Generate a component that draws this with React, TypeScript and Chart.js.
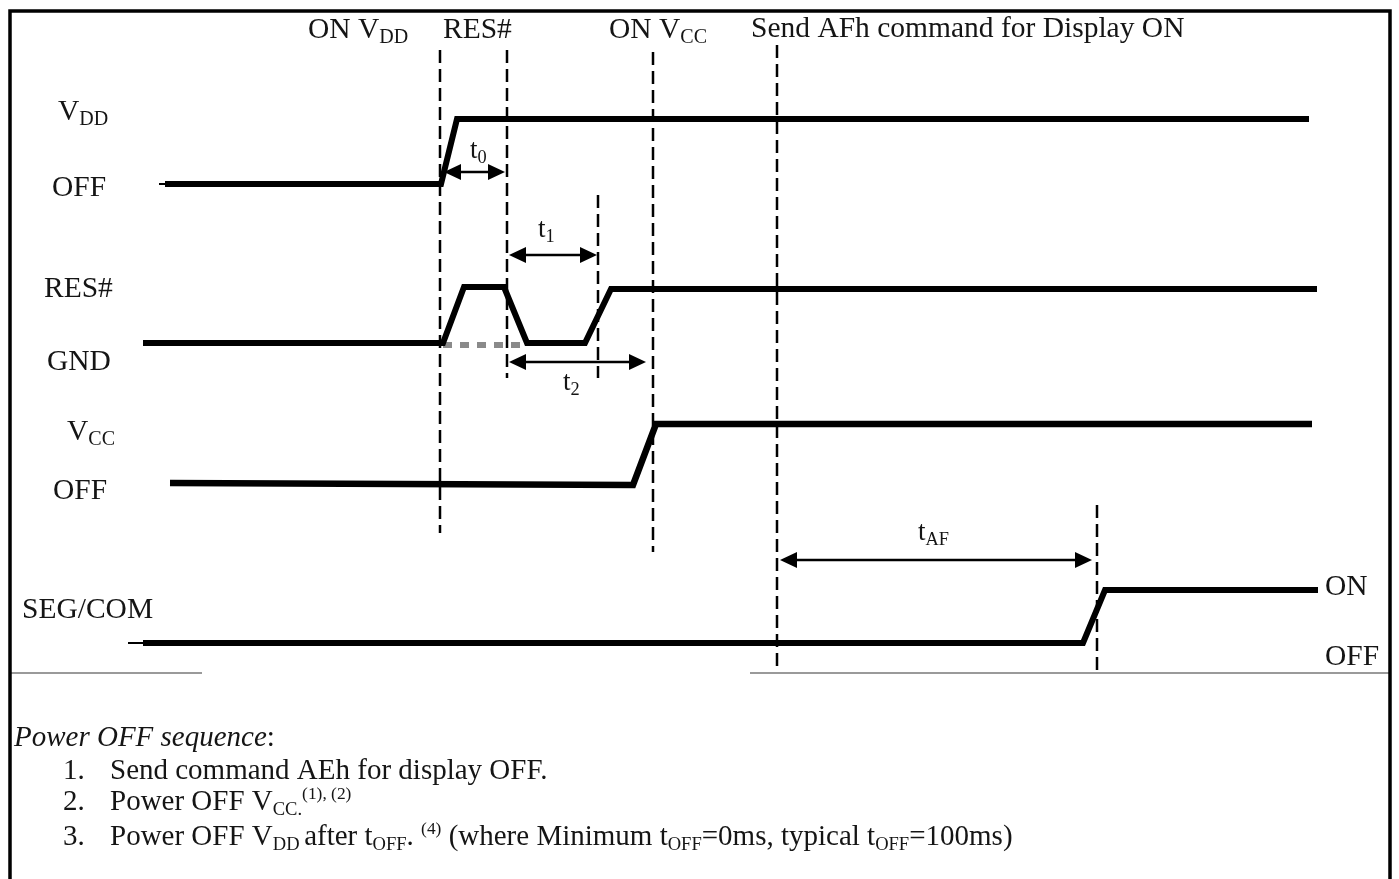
import React, { useEffect, useRef } from 'react';
import { Chart, registerables } from 'chart.js';

Chart.register(...registerables);

const W = 1399;
const H = 879;

// ---- waveform data (time axis, level axis) ----
const vddTime = [165, 441, 457, 1309];
const vddLevel = [184, 184, 119, 119];
const vddLeadTime = [159, 166];
const vddLeadLevel = [184, 184];

const resTime = [143, 443, 464, 504, 527, 585, 611, 1317];
const resLevel = [343, 343, 287, 287, 343, 343, 289, 289];
const resDotTime = [443, 521];
const resDotLevel = [345, 345];

const vccTime = [170, 633, 656, 1312];
const vccLevel = [483, 485, 424, 424];

const segTime = [143, 1083, 1105, 1318];
const segLevel = [643, 643, 590, 590];
const segLeadTime = [128, 144];
const segLeadLevel = [643, 643];

// ---- event markers (dashed verticals) ----
const markerTime = [440, 507, 598, 653, 777, 1097];
const markerTop = [50, 50, 195, 52, 45, 505];
const markerBottom = [533, 378, 378, 552, 668, 670];

// ---- timing spans (double arrows) ----
const spanName = ['t0', 't1', 't2', 'tAF'];
const spanStart = [444, 509, 509, 780];
const spanEnd = [505, 597, 646, 1092];
const spanLevel = [172, 255, 362, 560];

// ---- separators ----
const sepStart = [10, 750];
const sepEnd = [202, 1390];
const sepLevel = [673, 673];

// ---- texts: [text, kind] kind n=normal, b=subscript, p=superscript, i=italic ----
type Seg = [string, string];
const headerTexts: Seg[][] = [
  [['ON V', 'n'], ['DD', 'b']],
  [['RES#', 'n']],
  [['ON V', 'n'], ['CC', 'b']],
  [['Send AFh command for Display ON', 'n']],
];
const signalTexts: Seg[][] = [
  [['V', 'n'], ['DD', 'b']],
  [['OFF', 'n']],
  [['RES#', 'n']],
  [['GND', 'n']],
  [['V', 'n'], ['CC', 'b']],
  [['OFF', 'n']],
  [['SEG/COM', 'n']],
  [['ON', 'n']],
  [['OFF', 'n']],
];
const spanTexts: Seg[][] = [
  [['t', 'n'], ['0', 'b']],
  [['t', 'n'], ['1', 'b']],
  [['t', 'n'], ['2', 'b']],
  [['t', 'n'], ['AF', 'b']],
];
const noteTitle: Seg[] = [['Power OFF sequence', 'i'], [':', 'n']];
const noteNumbers = ['1.', '2.', '3.'];
const noteLines: Seg[][] = [
  [['Send command AEh for display OFF.', 'n']],
  [['Power OFF V', 'n'], ['CC.', 'b'], ['(1), (2)', 'p']],
  [
    ['Power OFF V', 'n'], ['DD ', 'b'], ['after t', 'n'], ['OFF', 'b'], ['. ', 'n'], ['(4)', 'p'],
    [' (where Minimum t', 'n'], ['OFF', 'b'], ['=0ms, typical t', 'n'], ['OFF', 'b'], ['=100ms)', 'n'],
  ],
];

// ---- layout (positions / sizes) ----
const headerPos = [[308, 38], [443, 38], [609, 38], [751, 37]];
const signalPos = [[58, 120], [52, 196], [44, 297], [47, 370], [67, 440], [53, 499], [22, 618], [1325, 595], [1325, 665]];
const spanTextPos = [[470, 158], [538, 237], [563, 390], [918, 540]];
const noteTitlePos = [14, 746];
const noteNumX = 63;
const noteTextX = 110;
const noteLineY = [779, 810, 845];
const LABEL_SIZE = 29.5;
const NOTE_SIZE = 29;
const SPAN_SIZE = 27;

const FONT = "'Liberation Serif', 'Times New Roman', serif";
const INK = '#151515';

function drawRich(ctx: CanvasRenderingContext2D, segs: Seg[], x: number, y: number, size: number, subScale = 0.68) {
  let cx = x;
  for (const [t, k] of segs) {
    let fs = size;
    let dy = 0;
    let style = '';
    if (k === 'b') { fs = size * subScale; dy = size * 0.17; }
    if (k === 'p') { fs = size * 0.6; dy = -size * 0.38; }
    if (k === 'i') { style = 'italic '; }
    ctx.font = `${style}${fs}px ${FONT}`;
    ctx.fillText(t, cx, y + dy);
    cx += ctx.measureText(t).width;
  }
}

const pts = (xs: number[], ys: number[]) => xs.map((x, i) => ({ x, y: ys[i] }));

const overlay = {
  id: 'overlay',
  afterDatasetsDraw(chart: any) {
    const { ctx, scales } = chart;
    const px = (v: number) => scales.x.getPixelForValue(v);
    const py = (v: number) => scales.y.getPixelForValue(v);
    ctx.save();
    // frame
    ctx.strokeStyle = '#000';
    ctx.lineWidth = 3.5;
    ctx.beginPath();
    ctx.moveTo(px(10), py(H));
    ctx.lineTo(px(10), py(11));
    ctx.lineTo(px(1390), py(11));
    ctx.lineTo(px(1390), py(H));
    ctx.stroke();
    // arrow heads
    ctx.fillStyle = '#000';
    spanStart.forEach((s, i) => {
      const e = spanEnd[i];
      const y = py(spanLevel[i]);
      const L = 17, hw = 8;
      ctx.beginPath();
      ctx.moveTo(px(s), y);
      ctx.lineTo(px(s) + L, y - hw);
      ctx.lineTo(px(s) + L, y + hw);
      ctx.closePath();
      ctx.fill();
      ctx.beginPath();
      ctx.moveTo(px(e), y);
      ctx.lineTo(px(e) - L, y - hw);
      ctx.lineTo(px(e) - L, y + hw);
      ctx.closePath();
      ctx.fill();
    });
    // texts
    ctx.fillStyle = INK;
    ctx.textBaseline = 'alphabetic';
    ctx.textAlign = 'left';
    headerTexts.forEach((t, i) => drawRich(ctx, t, headerPos[i][0], headerPos[i][1], LABEL_SIZE));
    signalTexts.forEach((t, i) => drawRich(ctx, t, signalPos[i][0], signalPos[i][1], LABEL_SIZE));
    spanTexts.forEach((t, i) => drawRich(ctx, t, spanTextPos[i][0], spanTextPos[i][1], SPAN_SIZE));
    drawRich(ctx, noteTitle, noteTitlePos[0], noteTitlePos[1], NOTE_SIZE);
    noteNumbers.forEach((n, i) => drawRich(ctx, [[n, 'n']], noteNumX, noteLineY[i], NOTE_SIZE));
    noteLines.forEach((t, i) => drawRich(ctx, t, noteTextX, noteLineY[i], NOTE_SIZE, 0.64));
    ctx.restore();
  },
};

export default function App() {
  const ref = useRef<HTMLCanvasElement | null>(null);
  useEffect(() => {
    if (!ref.current) return;
    const wave = (xs: number[], ys: number[], width: number, color = '#000', dash: number[] = []) => ({
      data: pts(xs, ys),
      showLine: true,
      borderColor: color,
      borderWidth: width,
      borderDash: dash,
      borderCapStyle: 'butt',
      borderJoinStyle: 'miter',
      pointRadius: 0,
      tension: 0,
      clip: false,
    });
    const datasets: any[] = [
      wave(vddLeadTime, vddLeadLevel, 2),
      wave(vddTime, vddLevel, 6),
      wave(resTime, resLevel, 6),
      wave(resDotTime, resDotLevel, 6, '#8a8a8a', [9, 8]),
      wave(vccTime, vccLevel, 6.5),
      wave(segLeadTime, segLeadLevel, 2),
      wave(segTime, segLevel, 6),
    ];
    markerTime.forEach((t, i) => datasets.push(wave([t, t], [markerTop[i], markerBottom[i]], 2.5, '#000', [13, 6])));
    spanStart.forEach((s, i) => datasets.push(wave([s + 10, spanEnd[i] - 10], [spanLevel[i], spanLevel[i]], 2.5)));
    sepStart.forEach((s, i) => datasets.push(wave([s, sepEnd[i]], [sepLevel[i], sepLevel[i]], 2, '#9a9a9a')));

    const chart = new Chart(ref.current, {
      type: 'scatter',
      data: { datasets },
      options: {
        animation: false,
        responsive: false,
        devicePixelRatio: 1,
        events: [],
        layout: { padding: 0 },
        plugins: { legend: { display: false }, tooltip: { enabled: false }, title: { display: false } },
        scales: {
          x: { type: 'linear', min: 0, max: W, display: false },
          y: { type: 'linear', min: 0, max: H, reverse: true, display: false },
        },
      },
      plugins: [overlay],
    } as any);
    return () => chart.destroy();
  }, []);
  return (
    <div style={{ position: 'absolute', left: 0, top: 0, width: W, height: H, background: '#fff' }}>
      <canvas ref={ref} width={W} height={H} style={{ display: 'block', width: W, height: H }} />
    </div>
  );
}
